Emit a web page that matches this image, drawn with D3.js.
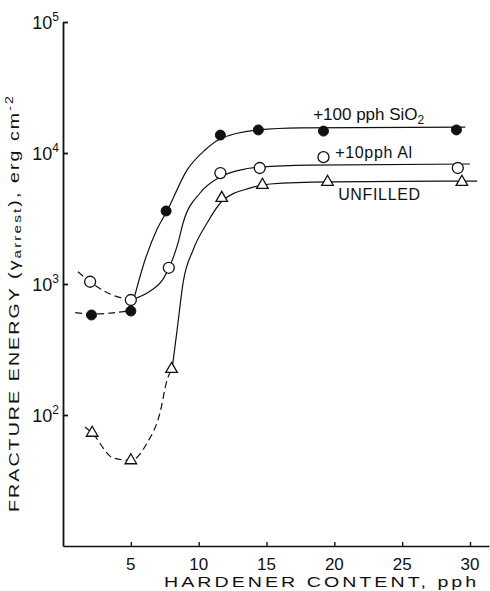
<!DOCTYPE html>
<html><head><meta charset="utf-8">
<script src="https://cdn.jsdelivr.net/npm/d3@7"></script>
<style>
body{margin:0;background:#fff}
svg{display:block}
text{font-family:"Liberation Sans",Arial,sans-serif;fill:#111}
</style>
</head><body>
<svg id="c" width="490" height="591"></svg>
<script>
// ---- data ----
const xTicks = [5, 10, 15, 20, 25, 30];
const yTickValues = [100, 1000, 10000, 100000];
const yTickExps = ["2", "3", "4", "5"];

// measured points
const hardenerSiO2 = [2.1, 5.0, 7.6, 11.6, 14.4, 19.2, 29.0];
const energySiO2   = [580, 622, 3610, 13700, 15000, 14700, 15000];
const hardenerAl   = [2.0, 5.0, 7.8, 11.6, 14.5, 19.2, 29.1];
const energyAl     = [1040, 755, 1330, 7030, 7680, 9300, 7680];
const hardenerUnf  = [2.15, 5.0, 8.0, 11.7, 14.7, 19.5, 29.4];
const energyUnf    = [73, 45, 224, 4530, 5700, 6010, 6010];

// hand-drawn trend curves: dashed part then solid part ([hardener, energy])
const curveSiO2Dashed = [[0.9, 605], [2.1, 590], [3.5, 600], [5.0, 625]];
const curveSiO2Solid  = [[5.0, 625], [6.05, 1530], [6.93, 2620], [7.67, 3610], [9.14, 7410], [10.47, 10550], [11.58, 12800], [14.38, 15000], [17.5, 15530], [29.65, 15780]];
const curveAlDashed   = [[1.1, 1240], [2.0, 1040], [3.47, 839], [5.0, 755]];
const curveAlSolid    = [[5.0, 755], [6.4, 880], [7.4, 1100], [8.0, 1470], [8.5, 2100], [8.85, 2920], [10.1, 4950], [11.58, 6560], [13.05, 7410], [14.53, 7810], [18.2, 8090], [30.0, 8240]];
const curveUnfDashed  = [[1.62, 81], [2.14, 73], [3.69, 47], [5.0, 45], [6.19, 61], [7.15, 104], [7.67, 185], [8.04, 224]];
const curveUnfSolid   = [[8.04, 224], [8.41, 445], [8.85, 1020], [9.59, 1820], [10.62, 2920], [11.73, 4300], [13.79, 5400], [15.27, 5800], [19.69, 6010], [30.53, 6110]];

// series label anchors [hardener, energy]
const labelSiO2 = [18.44, 17870];
const labelAl   = [20.06, 9160];
const labelUnf  = [20.28, 4375];

// ---- chart ----
const svg = d3.select("#c");
const x = d3.scaleLinear().domain([0, 31.4]).range([63, 489]);
const y = d3.scaleLog().domain([10, 1e5]).range([546, 22]);

// axes
const yAxis = d3.axisRight(y).tickValues(yTickValues).tickSize(5).tickSizeOuter(0).tickFormat("");
svg.append("g").attr("transform", `translate(${x(0)},0)`).call(yAxis)
  .call(g => g.selectAll("path,line").attr("stroke", "#111").attr("stroke-width", 1.8));
const xAxis = d3.axisTop(x).tickValues(xTicks).tickSize(4).tickSizeOuter(0).tickFormat("");
svg.append("g").attr("transform", `translate(0,${y(10)})`).call(xAxis)
  .call(g => g.selectAll("path,line").attr("stroke", "#111").attr("stroke-width", 1.4));

// y tick labels
yTickValues.forEach((v, i) => {
  const t = svg.append("text").attr("x", x(0) - 4).attr("y", y(v) + 7)
    .attr("text-anchor", "end").attr("font-size", 18);
  t.append("tspan").text("10");
  t.append("tspan").attr("font-size", 12).attr("dy", -8).text(yTickExps[i]);
});

// x tick labels
svg.selectAll(".xl").data(xTicks).join("text")
  .attr("x", d => x(d)).attr("y", 570).attr("text-anchor", "middle")
  .attr("font-size", 17).text(d => d);

// axis titles (wide lettering as in the reference)
svg.append("text").attr("transform", "translate(164,587) scale(1.4,1)")
  .attr("font-size", 14).attr("textLength", 223).attr("lengthAdjust", "spacing")
  .text("HARDENER CONTENT, pph");

const yt = svg.append("text").attr("transform", "translate(19,512) rotate(-90) scale(1.4,1)")
  .attr("font-size", 14).attr("textLength", 297).attr("lengthAdjust", "spacing");
yt.append("tspan").text("FRACTURE ENERGY (γ");
yt.append("tspan").attr("font-size", 11).attr("dy", 2).text("arrest");
yt.append("tspan").attr("dy", -2).text("), erg cm");
yt.append("tspan").attr("font-size", 10).attr("dy", -6).text("-2");

// curves
const line = d3.line().x(d => x(d[0])).y(d => y(d[1])).curve(d3.curveMonotoneX);
const curves = [
  [curveSiO2Dashed, true], [curveSiO2Solid, false],
  [curveAlDashed, true], [curveAlSolid, false],
  [curveUnfDashed, true], [curveUnfSolid, false]
];
curves.forEach(([c, dashed]) => {
  svg.append("path").attr("d", line(c)).attr("fill", "none")
    .attr("stroke", "#111").attr("stroke-width", 1.2)
    .attr("stroke-dasharray", dashed ? "7,4" : null);
});

// markers
const zip = (a, b) => a.map((v, i) => [v, b[i]]);
svg.selectAll(".al").data(zip(hardenerAl, energyAl)).join("circle")
  .attr("cx", d => x(d[0])).attr("cy", d => y(d[1])).attr("r", 5.5)
  .attr("fill", "#fff").attr("stroke", "#111").attr("stroke-width", 1.3);
svg.selectAll(".si").data(zip(hardenerSiO2, energySiO2)).join("circle")
  .attr("cx", d => x(d[0])).attr("cy", d => y(d[1])).attr("r", 5)
  .attr("fill", "#111").attr("stroke", "#111").attr("stroke-width", 1);
const tri = d3.symbol().type(d3.symbolTriangle).size(58);
svg.selectAll(".un").data(zip(hardenerUnf, energyUnf)).join("path")
  .attr("d", tri).attr("transform", d => `translate(${x(d[0])},${y(d[1])})`)
  .attr("fill", "#fff").attr("stroke", "#111").attr("stroke-width", 1.3);

// series labels
const l1 = svg.append("text").attr("x", x(labelSiO2[0])).attr("y", y(labelSiO2[1])).attr("font-size", 17)
  .attr("textLength", 111).attr("lengthAdjust", "spacing");
l1.append("tspan").text("+100 pph SiO");
l1.append("tspan").attr("font-size", 12).attr("dy", 4).text("2");
svg.append("text").attr("x", x(labelAl[0])).attr("y", y(labelAl[1])).attr("font-size", 16)
  .attr("textLength", 77).attr("lengthAdjust", "spacing").text("+10pph Al");
svg.append("text").attr("x", x(labelUnf[0])).attr("y", y(labelUnf[1])).attr("font-size", 16)
  .attr("textLength", 82).attr("lengthAdjust", "spacing").text("UNFILLED");
</script>
</body></html>
